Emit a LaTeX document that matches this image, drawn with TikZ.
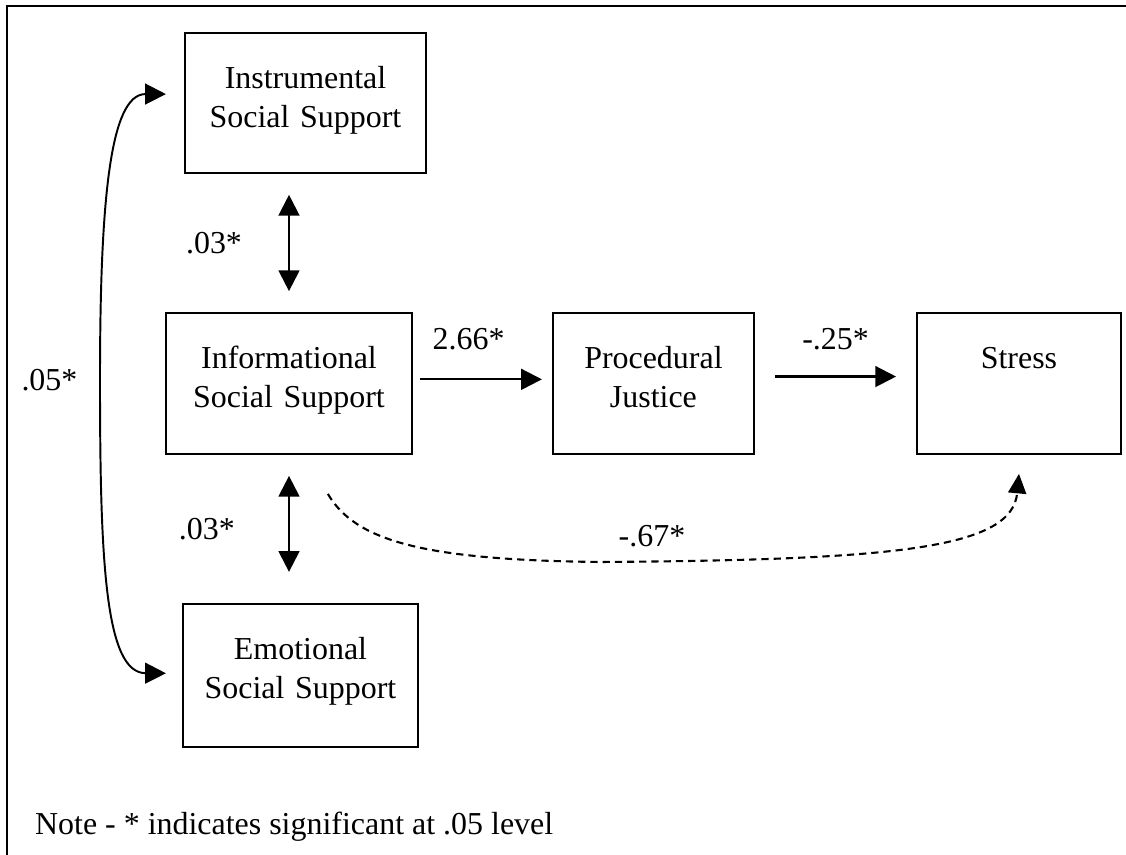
\documentclass[tikz,border=0pt]{standalone}
\usepackage{fontspec}
\setmainfont{Liberation Serif}
\usetikzlibrary{positioning,arrows.meta}

\begin{document}
\begin{tikzpicture}[x=0.36pt,y=0.36pt,semithick,
    every node/.style={font=\fontsize{11.5}{14}\selectfont},
    box/.style={draw,line width=0.7pt,align=center,inner sep=0pt,text width=#1,
                minimum width=#1,text height=20pt,text depth=30.8pt},
    oneway/.style={-{Triangle[length=7.5pt,width=7.5pt]},line width=0.8pt},
    twoway/.style={{Triangle[length=7.5pt,width=7.5pt]}-{Triangle[length=7.5pt,width=7.5pt]},line width=0.8pt},
    dashway/.style={-{Triangle[length=7pt,width=6.5pt]},line width=0.75pt,dash pattern=on 2.6pt off 1.8pt}]

  \useasboundingbox (0,0) rectangle (1126,-855);
  \draw[line width=0.7pt] (1126,-6) -- (7,-6) -- (7,-855);

  \node[box=88.6pt] (info) at (289,-383.5) {Informational\\Social Support};
  \node[box=72.4pt] (proc) [right=50pt of info] {Procedural\\Justice};
  \node[box=73.4pt] (stress) [right=58pt of proc] {Stress};
  \node[box=86.8pt,text depth=30.4pt] (inst) at (305.5,-103) {Instrumental\\Social Support};
  \node[box=84.6pt,text depth=31.5pt] (emo) at (300.5,-675.5) {Emotional\\Social Support};
  \node[anchor=base west] (note) at (25,-835) {Note - * indicates significant at .05 level};

  \draw[twoway,shorten <=7.5pt,shorten >=7.5pt] (info.north) -- node[left=13.2pt] {.03*} (info.north |- inst.south);
  \draw[twoway,shorten <=7.5pt,shorten >=11.2pt] (info.south) -- node[left=15.8pt] {.03*} (info.south |- emo.north);

  \draw[oneway,shorten <=2.5pt,shorten >=3.6pt] ([yshift=1.5pt]info.east) -- node[pos=0.4,above=6.7pt] {2.66*} ([yshift=1.5pt]proc.west);
  \draw[oneway,shorten <=7.2pt,shorten >=7.2pt] ([yshift=2.5pt]proc.east) -- node[above=6pt] {-.25*} ([yshift=2.5pt]stress.west);

  \coordinate (dip) at (600,-562);
  \draw[dashway] ([xshift=14pt,yshift=-14pt]info.south) .. controls (355,-540) and (420,-560) .. (dip)
        .. controls (900,-560) and (1012,-548) .. ([yshift=-6.8pt]stress.south) node[pos=0.06,above=1.5pt] {-.67*};

  \coordinate (bend) at (100,-380);
  \draw[twoway,line width=0.7pt] ([xshift=-6.5pt,yshift=3.2pt]inst.west) .. controls (110,-94) and (100,-200) .. (bend)
        .. controls (100,-560) and (105,-673) .. ([xshift=-5.8pt,yshift=0.8pt]emo.west);
  \node[left=4.5pt] (sig05) at (bend) {.05*};
\end{tikzpicture}
\end{document}
